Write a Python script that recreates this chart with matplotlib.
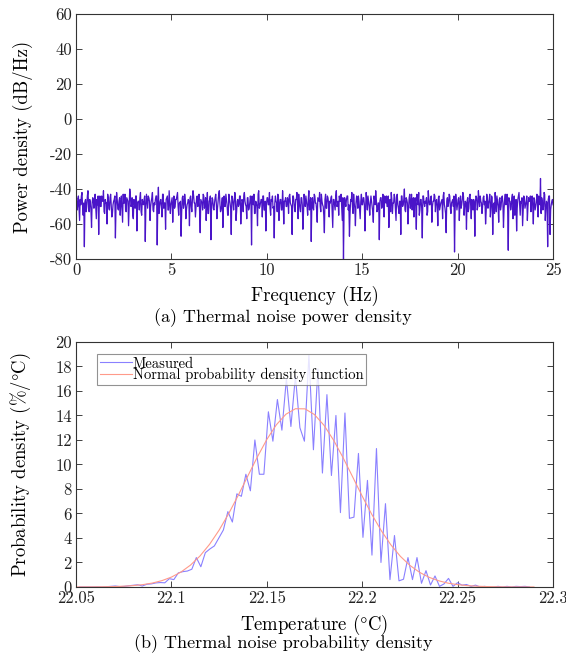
import numpy as np
import matplotlib
matplotlib.use("Agg")
import matplotlib.pyplot as plt

plt.rcParams['font.family'] = ['cmr10', 'DejaVu Serif']
plt.rcParams['mathtext.fontset'] = 'cm'
plt.rcParams['axes.unicode_minus'] = False
plt.rcParams['axes.formatter.use_mathtext'] = False

# (a) power density of thermal noise, dB/Hz (20 rows of 1.25 Hz)
psd_db = [
    -47, -45, -52, -49, -44, -51, -58, -46, -49, -44, -42, -50, -55, -48, -73, -47, -46, -53, -50, -44,
    -41, -49, -53, -46, -48, -52, -62, -48, -45, -47, -51, -45, -43, -50, -57, -46, -49, -44, -66, -48,
    -44, -50, -50, -44, -47, -47, -41, -53, -54, -46, -48, -48, -60, -43, -45, -51, -52, -45, -43, -49,
    -56, -54, -49, -47, -46, -44, -68, -50, -42, -46, -51, -52, -47, -45, -55, -48, -44, -51, -59, -43,
    -48, -48, -43, -52, -53, -45, -46, -47, -61, -50, -40, -43, -50, -49, -45, -55, -57, -46, -49, -51,
    -44, -44, -64, -48, -47, -47, -52, -45, -42, -53, -55, -46, -48, -49, -46, -44, -70, -50, -43, -47,
    -51, -44, -45, -47, -58, -50, -47, -45, -42, -52, -53, -48, -49, -46, -44, -44, -72, -49, -39, -54,
    -50, -47, -46, -50, -56, -43, -43, -51, -48, -48, -63, -46, -45, -44, -52, -52, -41, -47, -54, -49,
    -47, -45, -59, -49, -44, -51, -50, -46, -46, -44, -42, -50, -55, -48, -48, -47, -67, -53, -45, -44,
    -51, -49, -43, -46, -57, -52, -49, -48, -46, -47, -61, -45, -44, -50, -53, -46, -41, -44, -48, -48,
    -56, -50, -45, -44, -50, -47, -43, -53, -65, -46, -47, -48, -52, -43, -44, -51, -49, -45, -58, -49,
    -42, -54, -54, -47, -46, -44, -69, -50, -45, -46, -51, -52, -48, -45, -43, -48, -57, -51, -47, -43,
    -41, -48, -53, -52, -49, -45, -62, -47, -44, -50, -50, -43, -46, -49, -55, -55, -43, -46, -48, -51,
    -66, -44, -45, -48, -52, -47, -42, -45, -58, -53, -47, -46, -50, -49, -44, -44, -60, -50, -46, -47,
    -53, -44, -42, -47, -49, -50, -57, -45, -45, -52, -51, -48, -44, -46, -72, -44, -47, -49, -43, -54,
    -54, -47, -48, -50, -61, -43, -41, -51, -50, -48, -46, -46, -56, -44, -44, -52, -52, -47, -64, -49,
    -45, -45, -49, -49, -42, -51, -55, -46, -47, -44, -51, -50, -68, -48, -44, -47, -48, -53, -43, -44,
    -58, -49, -46, -46, -52, -52, -41, -48, -60, -47, -47, -45, -50, -50, -45, -46, -54, -44, -43, -48,
    -49, -50, -66, -44, -44, -47, -51, -53, -46, -46, -42, -48, -57, -43, -48, -51, -53, -45, -45, -49,
    -63, -54, -43, -47, -50, -44, -47, -50, -55, -46, -41, -52, -49, -45, -70, -48, -45, -51, -52, -43,
    -44, -48, -48, -52, -59, -45, -46, -47, -42, -50, -53, -43, -47, -49, -50, -55, -65, -46, -43, -51,
    -51, -44, -45, -48, -56, -47, -48, -45, -44, -53, -62, -46, -46, -49, -52, -44, -41, -50, -49, -47,
    -55, -44, -47, -47, -43, -50, -58, -45, -80, -52, -45, -48, -50, -46, -44, -44, -52, -49, -67, -54,
    -46, -47, -42, -50, -54, -43, -48, -51, -61, -48, -44, -46, -51, -44, -47, -52, -57, -47, -43, -49,
    -49, -45, -45, -49, -64, -51, -42, -46, -52, -44, -47, -50, -55, -48, -44, -47, -50, -53, -59, -44,
    -46, -49, -41, -46, -53, -52, -48, -48, -69, -47, -45, -45, -51, -50, -43, -46, -56, -44, -47, -48,
    -44, -50, -50, -44, -62, -47, -46, -53, -42, -46, -54, -48, -48, -43, -45, -51, -58, -45, -43, -49,
    -51, -54, -47, -47, -66, -44, -44, -50, -49, -46, -40, -52, -53, -45, -46, -48, -60, -51, -45, -43,
    -51, -48, -43, -52, -48, -45, -56, -47, -45, -50, -63, -43, -47, -49, -42, -55, -52, -46, -46, -51,
    -68, -44, -44, -48, -50, -47, -48, -45, -55, -53, -41, -46, -49, -49, -45, -44, -59, -50, -47, -47,
    -43, -44, -53, -47, -46, -50, -61, -45, -44, -52, -50, -48, -47, -46, -57, -44, -42, -49, -51, -54,
    -65, -47, -45, -50, -48, -43, -44, -51, -54, -48, -47, -46, -50, -44, -76, -52, -43, -47, -52, -49,
    -46, -45, -58, -49, -44, -51, -49, -46, -42, -44, -55, -50, -47, -48, -63, -47, -45, -53, -51, -44,
    -43, -49, -57, -46, -48, -52, -46, -48, -67, -47, -44, -45, -52, -50, -41, -46, -50, -44, -47, -48,
    -54, -50, -45, -44, -49, -47, -60, -53, -43, -46, -51, -48, -46, -43, -56, -51, -44, -45, -66, -49,
    -48, -54, -42, -47, -53, -44, -47, -50, -59, -46, -45, -52, -50, -45, -44, -48, -62, -51, -46, -43,
    -49, -48, -43, -52, -75, -45, -47, -47, -52, -50, -45, -43, -57, -49, -44, -55, -50, -46, -64, -51,
    -46, -44, -42, -48, -55, -47, -48, -45, -61, -53, -44, -46, -51, -49, -47, -44, -58, -50, -45, -47,
    -47, -44, -53, -47, -44, -50, -60, -45, -46, -52, -50, -48, -43, -46, -56, -44, -48, -49, -34, -54,
    -45, -47, -52, -50, -42, -43, -58, -51, -47, -48, -73, -46, -44, -44, -66, -52, -49, -47, -46, -49,
]
freq = np.linspace(0, 25, len(psd_db))

# (b) measured probability density, %/degC
measured = [
    0, 0, 0, 0, 0.01, 0, 0.02, 0.05, 0.08, 0.03,
    0.05, 0.10, 0.14, 0.18, 0.08, 0.22, 0.25, 0.33, 0.36, 0.34,
    0.68, 0.60, 1.15, 1.25, 1.30, 1.45, 2.4, 1.65, 2.8, 3.1,
    3.35, 4.0, 4.65, 6.15, 5.3, 7.6, 7.4, 9.2, 7.85, 12.0,
    9.2, 9.2, 14.3, 11.9, 15.3, 12.8, 17.0, 13.1, 17.2, 13.0,
    11.9, 18.9, 11.2, 17.8, 9.3, 15.7, 9.1, 14.0, 6.07, 14.2,
    5.6, 5.7, 10.9, 4.05, 8.7, 2.6, 11.3, 2.0, 6.8, 0.6,
    4.2, 0.5, 0.63, 2.4, 0.6, 2.4, 0.3, 1.33, 0.16, 0.9,
    0.05, 0.25, 0.7, 0.05, 0.35, 0.15, 0.2, 0.05, 0.15, 0.0,
    0.05, 0, 0, 0.05, 0, 0.05, 0, 0.05, 0.03, 0.05, 0,
]
temp = np.linspace(22.0517, 22.2877, len(measured))

# normal pdf fit, read at 0.005 degC steps
fit_temp = np.linspace(22.05, 22.29, 49)
fit_pdf = [
    0.002, 0.005, 0.009, 0.018, 0.034, 0.063, 0.112, 0.192, 0.32, 0.516,
    0.806, 1.219, 1.785, 2.534, 3.483, 4.638, 5.983, 7.475, 9.045, 10.60,
    12.04, 13.24, 14.10, 14.55, 14.54, 14.07, 13.19, 11.98, 10.54, 8.98,
    7.41, 5.93, 4.59, 3.44, 2.50, 1.76, 1.20, 0.79, 0.51, 0.31,
    0.19, 0.11, 0.062, 0.034, 0.018, 0.009, 0.0045, 0.002, 0.001,
]

temp_ticks = [22.05, 22.1, 22.15, 22.2, 22.25, 22.3]
temp_labels = ['22.05', '22.1', '22.15', '22.2', '22.25', '22.3']

fig = plt.figure(figsize=(5.66, 6.59), dpi=100)
ax1 = fig.add_axes([0.1343, 0.6070, 0.8428, 0.3718])
ax2 = fig.add_axes([0.1343, 0.1093, 0.8428, 0.3718])

for ax in (ax1, ax2):
    ax.tick_params(direction='in', top=True, right=True, length=4, width=0.6,
                   labelsize=12, colors='#222222', pad=3)
    for s in ax.spines.values():
        s.set_linewidth(0.8)
        s.set_color('#333333')

# top panel
ax1.plot(freq, psd_db, color='#4a14c8', lw=0.9)
ax1.set_xlim(0, 25)
ax1.set_ylim(-80, 60)
ax1.set_xticks([0, 5, 10, 15, 20, 25])
ax1.set_yticks(range(-80, 61, 20))
ax1.set_xlabel('Frequency (Hz)', fontsize=13.5)
ax1.set_ylabel('Power density (dB/Hz)', fontsize=13.5)
ax1.xaxis.set_label_coords(0.5, -0.11)
ax1.yaxis.set_label_coords(-0.09, 0.5)
fig.text(0.5, 1 - 318 / 659, '(a) Thermal noise power density', ha='center',
         va='center', fontsize=13)

# bottom panel
ax2.plot(temp, measured, color='#8a80ff', lw=0.8, label='Measured')
ax2.plot(fit_temp, fit_pdf, color='#ff9a8a', lw=0.8,
         label='Normal probability density function')
ax2.set_xlim(22.05, 22.3)
ax2.set_ylim(0, 20)
ax2.set_xticks(temp_ticks)
ax2.set_xticklabels(temp_labels)
ax2.set_yticks(range(0, 21, 2))
ax2.set_xlabel(r'Temperature ($\degree$C)', fontsize=13.5)
ax2.set_ylabel(r'Probability density (%/$\degree$C)', fontsize=13.5)
ax2.xaxis.set_label_coords(0.5, -0.105)
ax2.yaxis.set_label_coords(-0.09, 0.5)
leg = ax2.legend(loc='upper left', bbox_to_anchor=(0.044, 0.951), fontsize=10.5,
                 frameon=True, fancybox=False, handlelength=2.2,
                 handletextpad=0.05, labelspacing=-0.2, borderpad=0.2,
                 borderaxespad=0)
leg.get_frame().set_edgecolor('#777777')
leg.get_frame().set_linewidth(0.8)
fig.text(0.5, 1 - 644 / 659, '(b) Thermal noise probability density',
         ha='center', va='center', fontsize=13)

fig.savefig('out.png', dpi=100)
